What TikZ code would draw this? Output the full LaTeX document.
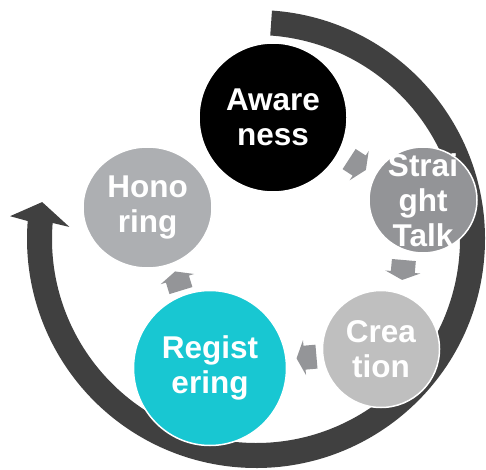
\documentclass[tikz,border=0pt]{standalone}
\usepackage{fontspec}
\setmainfont{Liberation Sans}
\usetikzlibrary{shapes.geometric}
\definecolor{arcgray}{RGB}{64,64,64}
\definecolor{arrowgray}{RGB}{148,149,152}
\definecolor{stgray}{RGB}{147,148,151}
\definecolor{creagray}{RGB}{191,191,191}
\definecolor{honogray}{RGB}{173,175,178}
\definecolor{regteal}{RGB}{24,199,210}
\tikzset{
  blockarrow/.pic={\fill[arrowgray] (-10,-12) -- (2,-12) -- (2,-17.5) -- (10,0) -- (2,17.5) -- (2,12) -- (-10,12) -- cycle;},
  stage/.style={ellipse, draw=white, line width=1.5pt, inner sep=0pt},
  stagetext/.style={text=white, font=\bfseries\fontsize{31.5}{35}\selectfont, align=center, inner sep=0pt}
}
\begin{document}
\begin{tikzpicture}[x=1pt,y=1pt]
\useasboundingbox (0,0) rectangle (486,469);
% big cycle arrow
\begin{scope}[shift={(256,230)}]
\fill[arcgray] (86:229pt) arc[start angle=86, end angle=-184.5, radius=229pt]
  -- (-185.3:247pt) -- (-189.8:217pt) -- (-183.7:187pt) -- (-184.5:204pt)
  arc[start angle=-184.5, end angle=86, radius=204pt] -- cycle;
\end{scope}
% stages
\node[stage, fill=black, minimum width=148pt, minimum height=149pt,
  label={[stagetext]center:{Aware\\ness}}] (aw) at (273,351.5) {};
\node[stage, fill=stgray, minimum width=108pt, minimum height=106pt,
  label={[stagetext]center:{Strai\\ght\\Talk}}] (st) at (423,269) {};
\node[stage, fill=creagray, minimum width=117pt, minimum height=117pt,
  label={[stagetext]center:{Crea\\tion}}] (cr) at (381,120) {};
\node[stage, fill=regteal, minimum width=153pt, minimum height=155pt,
  label={[stagetext]center:{Regist\\ering}}] (rg) at (210,101) {};
\node[stage, fill=honogray, minimum width=129pt, minimum height=121pt,
  label={[stagetext]center:{Hono\\ring}}] (ho) at (147.5,261.5) {};
% small arrows
\pic[rotate=-33] at (357.5,304.5) {blockarrow};
\pic[rotate=-95] at (403,199) {blockarrow};
\pic[rotate=185] at (306.5,111.5) {blockarrow};
\pic[rotate=107] at (178,188) {blockarrow};
\end{tikzpicture}
\end{document}
